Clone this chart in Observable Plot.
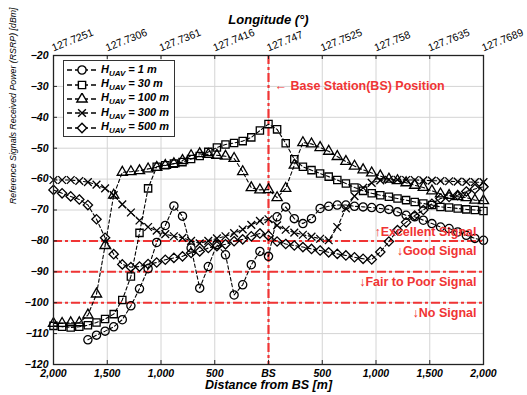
<!DOCTYPE html>
<html>
<head>
<meta charset="utf-8">
<script src="https://cdn.jsdelivr.net/npm/d3@7"></script>
<script src="https://cdn.jsdelivr.net/npm/@observablehq/plot@0.6"></script>
<style>
  body { margin: 0; background: #fff; }
  #wrap { position: relative; width: 527px; height: 395px; overflow: hidden; }
  #legend {
    position: absolute; left: 63px; top: 60px; width: 112px; height: 77px;
    box-sizing: border-box; border: 1.3px solid #333; background: #fff;
    font-family: 'Liberation Sans', Arial, sans-serif; font-weight: bold; font-style: italic;
    font-size: 11px; padding-top: 2px;
  }
  #legend .row { height: 14.4px; display: flex; align-items: center; white-space: nowrap; }
  #legend svg { margin-left: 2px; margin-right: 3px; }
  #legend sub { font-size: 8px; vertical-align: -3px; }
</style>
</head>
<body>
<div id="wrap"><div id="legend"></div></div>
<script>
// ---------- data ----------
const distance = [-2000,-1920,-1840,-1760,-1680,-1600,-1520,-1440,-1360,-1280,-1200,-1120,-1040,-960,-880,-800,-720,-640,-560,-480,-400,-320,-240,-160,-80,0,
  80,160,240,320,400,480,560,640,720,800,880,960,1040,1120,1200,1280,1360,1440,1520,1600,1680,1760,1840,1920,2000];

const rsrp1m = [null,null,null,null,-112.0,-110.5,-109.2,-107.8,-105.5,-101.0,-95.5,-89.0,-80.5,-75.0,-68.7,-72.0,-82.3,-95.3,-88.3,-81.2,-84.5,-97.5,-94.2,-87.7,-83.4,-85.0,
  -72.2,-69.0,-72.8,-74.4,-72.8,-69.5,-68.8,-68.4,-68.4,-68.8,-69.0,-69.2,-69.5,-69.8,-70.6,-71.7,-72.2,-73.3,-74.4,-75.5,-76.0,-77.1,-78.2,-79.2,-79.8];
const rsrp30m = [-107.5,-107.8,-108.0,-107.8,-107.3,-106.4,-105.3,-103.7,-99.1,-91.5,-77.4,-63.0,-56.0,-55.5,-55.0,-54.5,-53.5,-52.5,-51.2,-49.8,-48.8,-48.3,-47.7,-46.5,-44.3,-42.2,
  -43.9,-48.4,-53.6,-56.0,-57.1,-58.2,-59.2,-60.3,-61.4,-62.7,-63.8,-64.6,-65.2,-65.7,-66.3,-66.8,-67.4,-67.9,-68.4,-69.0,-69.2,-69.5,-69.8,-70.0,-70.3];
const rsrp100m = [-106.7,-106.7,-106.5,-106.5,-104.0,-97.2,-81.5,-65.2,-57.8,-57.6,-57.3,-56.7,-56.2,-55.6,-55.0,-54.0,-52.4,-51.8,-52.0,-52.3,-52.6,-53.3,-57.6,-62.8,-63.5,-63.4,
  -66.0,-63.0,-55.5,-48.2,-48.6,-49.8,-51.0,-52.7,-54.3,-55.8,-57.0,-58.0,-59.0,-60.0,-60.5,-61.2,-62.0,-62.7,-63.8,-64.8,-65.3,-65.7,-66.0,-66.8,-67.0];
const rsrp300m = [-60.3,-60.3,-60.3,-60.6,-61.0,-61.8,-63.0,-65.2,-68.2,-70.8,-73.4,-75.5,-76.7,-77.8,-78.5,-79.0,-80.0,-80.8,-80.0,-79.2,-78.5,-77.5,-76.3,-74.8,-73.5,-73.0,
  -75.0,-76.4,-77.3,-78.0,-78.6,-79.3,-79.8,-75.5,-69.5,-65.5,-62.8,-61.2,-60.4,-60.2,-60.2,-60.3,-60.3,-60.4,-60.5,-60.6,-60.7,-60.8,-60.9,-61.0,-61.0];
const rsrp500m = [-63.5,-64.6,-65.6,-66.6,-68.4,-73.0,-79.0,-84.3,-87.6,-88.5,-88.3,-87.5,-87.0,-86.1,-85.5,-85.0,-83.9,-83.4,-82.3,-81.7,-81.1,-80.1,-79.5,-78.5,-77.6,-78.3,
  -80.2,-81.0,-81.5,-82.0,-82.6,-83.1,-83.7,-84.2,-84.7,-85.3,-85.8,-86.0,-83.6,-80.2,-76.5,-74.0,-71.8,-70.0,-68.0,-66.3,-65.8,-65.2,-64.0,-63.2,-62.5];

const uavHeights = ["1", "30", "100", "300", "500"];
const seriesValues = [rsrp1m, rsrp30m, rsrp100m, rsrp300m, rsrp500m];
const seriesSymbols = ["circle", "square", "triangle", "times", "diamond2"];

const distTicks = [-2000,-1500,-1000,-500,0,500,1000,1500,2000];
const distLabels = ["2,000","1,500","1,000","500","BS","500","1,000","1,500","2,000"];
const lonLabels = ["127.7251","127.7306","127.7361","127.7416","127.747","127.7525","127.758","127.7635","127.7689"];
const rsrpTicks = [-120,-110,-100,-90,-80,-70,-60,-50,-40,-30,-20];

const thresholds = [-80, -90, -100];
const bsPosition = [0];
const bsLabel = "\u2190 Base Station(BS) Position";
const bsLabelLevel = -30;
const zoneLabels = ["\u2191Excellent Signal", "\u2193Good Signal", "\u2193Fair to Poor Signal", "\u2193No Signal"];
const zoneLevels = [-80, -80, -90, -100];

// ---------- build ----------
const rows = [];
seriesValues.forEach((vals, s) => vals.forEach((v, i) => {
  if (v !== null) rows.push({d: distance[i], v, s});
}));
const distLabelMap = new Map(distTicks.map((d, i) => [d, distLabels[i]]));
const RED = "#f03434";
const FONT = "'Liberation Sans', Arial, sans-serif";

const W = 527, H = 395, mL = 53, mR = 44, mT = 55, mB = 31;
const plotH = H - mT - mB, plotW = W - mL - mR;
const symR = {circle: 4.1, square: 4.1, triangle: 3.8, times: 3.6, diamond2: 4.2};

const dotMarks = seriesSymbols.map((sym, s) => Plot.dot(rows.filter(r => r.s === s), {
  x: "d", y: "v", symbol: () => sym, r: symR[sym],
  stroke: "black", strokeWidth: 1.3, fill: "none"
}));

const chart = Plot.plot({
  width: W, height: H,
  marginLeft: mL, marginRight: mR, marginTop: mT, marginBottom: mB,
  style: {fontFamily: FONT, fontSize: "11px", background: "white", color: "black"},
  symbol: {type: "identity"},
  x: {domain: [-2000, 2000]},
  y: {domain: [-120, -20]},
  marks: [
    Plot.gridX(distTicks, {stroke: "#d4d4d4", strokeOpacity: 1, strokeWidth: 1}),
    Plot.gridY(rsrpTicks, {stroke: "#d4d4d4", strokeOpacity: 1, strokeWidth: 1}),
    Plot.ruleY(thresholds, {stroke: RED, strokeWidth: 2, strokeDasharray: "9,3,3,3"}),
    Plot.ruleX(bsPosition, {stroke: RED, strokeWidth: 2.2, strokeDasharray: "9,3,3,3"}),
    Plot.line(rows, {x: "d", y: "v", z: "s", stroke: "black", strokeWidth: 1.1, strokeDasharray: "3.5,2.5"}),
    ...dotMarks,
    Plot.frame({stroke: "#222", strokeWidth: 1.3}),
    Plot.tickX(distTicks, {x: d => d, insetTop: plotH - 4, stroke: "#222"}),
    Plot.tickX(distTicks, {x: d => d, insetBottom: plotH - 4, stroke: "#222"}),
    Plot.tickY(rsrpTicks, {y: d => d, insetRight: plotW - 4, stroke: "#222"}),
    Plot.axisX(distTicks, {anchor: "bottom", tickSize: 0, tickPadding: 5, label: null,
      tickFormat: d => distLabelMap.get(d), fontWeight: "bold", fontStyle: "italic", fontSize: 10.5}),
    Plot.axisY(rsrpTicks, {anchor: "left", tickSize: 0, tickPadding: 5, label: null,
      fontWeight: "bold", fontStyle: "italic", fontSize: 10.5}),
    Plot.text(distTicks, {x: d => d, y: () => rsrpTicks[rsrpTicks.length - 1], text: (d, i) => lonLabels[i],
      dy: -4, rotate: -22, textAnchor: "start", lineAnchor: "bottom", fontSize: 10.5}),
    Plot.text(["Longitude (\u00b0)"], {frameAnchor: "top", dy: -41, fontWeight: "bold", fontStyle: "italic", fontSize: 13}),
    Plot.text(["Distance from BS [m]"], {frameAnchor: "bottom", dy: 24, fontWeight: "bold", fontStyle: "italic", fontSize: 12.5}),
    Plot.text(["Reference Signals Received Power (RSRP) [dBm]"], {frameAnchor: "left", dx: -40, dy: -6, rotate: -90, fontStyle: "italic", fontSize: 8.8}),
    Plot.text([bsLabel], {x: bsPosition[0], y: bsLabelLevel, dx: 6, textAnchor: "start", fill: RED, fontWeight: "bold", fontSize: 12.5}),
    Plot.text(zoneLabels.slice(0, 1), {x: 2000, y: (d, i) => zoneLevels[i], dx: -7, dy: -9, textAnchor: "end", fill: RED, fontWeight: "bold", fontSize: 12.5}),
    Plot.text(zoneLabels.slice(1), {x: 2000, y: (d, i) => zoneLevels[i + 1], dx: -7, dy: 10, textAnchor: "end", fill: RED, fontWeight: "bold", fontSize: 12.5})
  ]
});
document.getElementById("wrap").prepend(chart);

// ---------- legend ----------
const legend = document.getElementById("legend");
const symMap = {circle: d3.symbolCircle, square: d3.symbolSquare, triangle: d3.symbolTriangle, times: d3.symbolTimes, diamond2: d3.symbolDiamond2};
uavHeights.forEach((h, s) => {
  const sym = seriesSymbols[s];
  const r = symR[sym];
  const path = d3.symbol(symMap[sym], Math.PI * r * r)();
  const row = document.createElement("div");
  row.className = "row";
  row.innerHTML = `<svg width="32" height="12" viewBox="0 0 32 12">
    <line x1="1" x2="31" y1="6" y2="6" stroke="black" stroke-width="1.3" stroke-dasharray="5,3"/>
    <path d="${path}" transform="translate(16,6)" fill="white" stroke="black" stroke-width="1.4"/>
  </svg><span>H<sub>UAV</sub> = ${h} m</span>`;
  legend.appendChild(row);
});
</script>
</body>
</html>
